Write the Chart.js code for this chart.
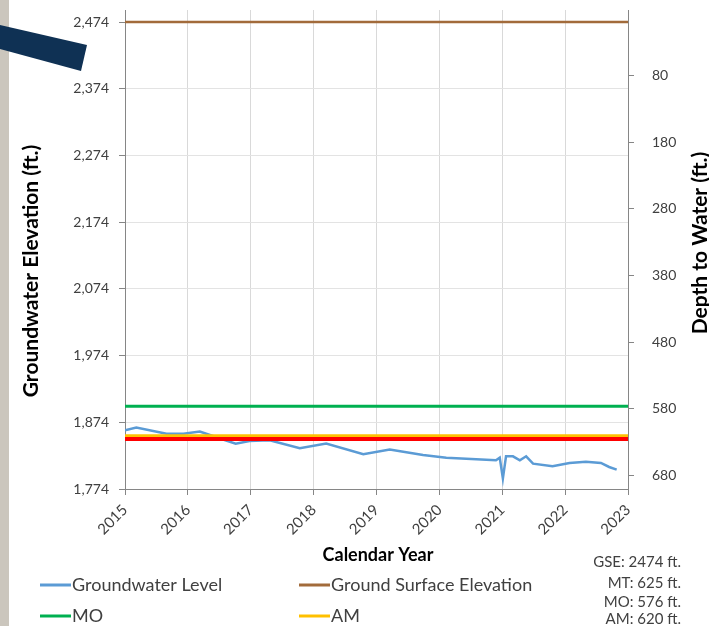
<!doctype html>
<html>
<head>
	<title>Groundwater Elevation</title>
	<script src="https://cdn.jsdelivr.net/npm/chart.js@4.4.1/dist/chart.umd.min.js"></script>
	<style>
		html, body { margin: 0; padding: 0; background: #fff; }
		#holder { width: 709px; height: 626px; }
	</style>
</head>
<body>
	<div id="holder">
		<canvas id="chart-area" width="709" height="626"></canvas>
	</div>
	<script>
		// well data
		var years = [2015.0, 2015.18, 2015.66, 2015.93, 2016.19, 2016.35, 2016.5, 2016.76, 2016.98, 2017.3, 2017.78, 2018.2,
			2018.79, 2019.21, 2019.74, 2020.11, 2020.9, 2020.96, 2021.01, 2021.06, 2021.17, 2021.28, 2021.38,
			2021.49, 2021.8, 2022.07, 2022.33, 2022.57, 2022.7, 2022.82];
		var levels = [1862, 1866, 1857, 1857, 1860, 1855, 1850, 1842, 1846, 1847, 1835, 1842,
			1826, 1833, 1825, 1821, 1817, 1821, 1790, 1823, 1823, 1817, 1823,
			1812, 1808, 1813, 1815, 1813, 1807, 1803];

		var gse = 2474;   // ground surface elevation (ft)
		var mtDepth = 625;
		var moDepth = 576;
		var amDepth = 620;

		var xRange = [2015, 2023];
		var elevTicks = [1774, 1874, 1974, 2074, 2174, 2274, 2374, 2474];
		var depthTicks = [80, 180, 280, 380, 480, 580, 680];

		var font = 'Lato, "Open Sans", sans-serif';

		function flat(v) {
			return [{ x: xRange[0], y: v }, { x: xRange[1], y: v }];
		}

		var gwData = years.map(function (yr, i) { return { x: yr, y: levels[i] }; });

		var notes = [
			'GSE: ' + gse + ' ft.',
			'MT: ' + mtDepth + ' ft.',
			'MO: ' + moDepth + ' ft.',
			'AM: ' + amDepth + ' ft.'
		];

		// titles, legend, notes and the bits of slide decoration
		var extras = {
			id: 'extras',
			afterDraw: function (chart) {
				var ctx = chart.ctx;
				ctx.save();

				// slide decoration at the left edge
				ctx.fillStyle = '#cbc6bd';
				ctx.fillRect(0, 0, 9, 626);
				ctx.fillStyle = '#0f3154';
				ctx.beginPath();
				ctx.moveTo(0, 25);
				ctx.lineTo(87, 45);
				ctx.lineTo(81, 71);
				ctx.lineTo(0, 49);
				ctx.closePath();
				ctx.fill();

				ctx.fillStyle = '#000';
				ctx.font = 'bold 21px ' + font;
				ctx.textAlign = 'center';
				ctx.textBaseline = 'middle';

				// axis titles
				ctx.save();
				ctx.translate(31, 271);
				ctx.rotate(-Math.PI / 2);
				ctx.fillText('Groundwater Elevation (ft.)', 0, 0);
				ctx.restore();

				ctx.save();
				ctx.translate(700, 243);
				ctx.rotate(-Math.PI / 2);
				ctx.fillText('Depth to Water (ft.)', 0, 0);
				ctx.restore();

				ctx.font = 'bold 18px ' + font;
				ctx.fillText('Calendar Year', 378, 555);

				// legend (MT is not listed)
				var items = [
					{ idx: 0, x: 40, y: 585 },
					{ idx: 1, x: 299, y: 585 },
					{ idx: 2, x: 40, y: 616 },
					{ idx: 3, x: 299, y: 616 }
				];
				ctx.font = '18px ' + font;
				ctx.textAlign = 'left';
				items.forEach(function (it) {
					var ds = chart.data.datasets[it.idx];
					ctx.strokeStyle = ds.borderColor;
					ctx.lineWidth = 3;
					ctx.beginPath();
					ctx.moveTo(it.x, it.y);
					ctx.lineTo(it.x + 31, it.y);
					ctx.stroke();
					ctx.fillStyle = '#404040';
					ctx.fillText(ds.label, it.x + 32, it.y);
				});

				// threshold notes
				ctx.font = '15px ' + font;
				ctx.textAlign = 'right';
				ctx.fillStyle = '#404040';
				var ny = [562, 583, 602, 619];
				notes.forEach(function (t, i) {
					ctx.fillText(t, 681, ny[i]);
				});

				ctx.restore();
			}
		};

		function noVPad(scale) {
			scale.paddingTop = 0;
			scale.paddingBottom = 0;
		}

		var config = {
			type: 'line',
			data: {
				datasets: [{
					label: 'Groundwater Level',
					data: gwData,
					borderColor: '#5b9bd5',
					borderWidth: 2.5,
					pointRadius: 0,
					order: 5
				}, {
					label: 'Ground Surface Elevation',
					data: flat(gse),
					borderColor: '#a26b3b',
					borderWidth: 2.5,
					pointRadius: 0,
					order: 1
				}, {
					label: 'MO',
					data: flat(gse - moDepth),
					borderColor: '#00b050',
					borderWidth: 3,
					pointRadius: 0,
					order: 1
				}, {
					label: 'AM',
					data: flat(gse - amDepth),
					borderColor: '#ffc000',
					borderWidth: 3,
					pointRadius: 0,
					order: 2
				}, {
					label: 'MT',
					data: flat(gse - mtDepth),
					borderColor: '#ff0000',
					borderWidth: 4,
					pointRadius: 0,
					order: 1
				}]
			},
			options: {
				responsive: false,
				animation: false,
				layout: { padding: { top: 10, left: 0, right: 0, bottom: 0 } },
				plugins: {
					legend: { display: false },
					tooltip: { enabled: false }
				},
				scales: {
					x: {
						type: 'linear',
						min: xRange[0],
						max: xRange[1],
						afterBuildTicks: function (scale) {
							var t = [];
							for (var y = xRange[0]; y <= xRange[1]; y++) t.push({ value: y });
							scale.ticks = t;
						},
						afterFit: function (scale) { scale.height = 137; },
						grid: { color: '#d9d9d9', tickLength: 6, tickColor: '#868686' },
						border: { color: '#868686' },
						ticks: {
							minRotation: 45,
							maxRotation: 45,
							padding: 6,
							color: '#404040',
							font: { family: font, size: 15 },
							callback: function (v) { return String(v); }
						}
					},
					y: {
						position: 'left',
						min: 1774,
						max: 2492,
						afterBuildTicks: function (scale) {
							scale.ticks = elevTicks.map(function (v) { return { value: v }; });
						},
						afterFit: function (scale) { scale.width = 125; noVPad(scale); },
						grid: { color: '#e3e3e3', tickLength: 6, tickColor: '#868686' },
						border: { color: '#868686' },
						ticks: {
							padding: 10,
							color: '#404040',
							font: { family: font, size: 14 },
							callback: function (v) { return v.toLocaleString('en-US'); }
						}
					},
					y2: {
						position: 'right',
						reverse: true,
						min: -18,
						max: 700,
						afterBuildTicks: function (scale) {
							scale.ticks = depthTicks.map(function (v) { return { value: v }; });
						},
						afterFit: function (scale) { scale.width = 81; noVPad(scale); },
						grid: { drawOnChartArea: false, tickLength: 6, color: '#868686' },
						border: { color: '#868686' },
						ticks: {
							padding: 18,
							color: '#404040',
							font: { family: font, size: 14 }
						}
					}
				}
			},
			plugins: [extras]
		};

		window.onload = function () {
			var ctx = document.getElementById('chart-area').getContext('2d');
			window.myChart = new Chart(ctx, config);
		};
	</script>
</body>
</html>
